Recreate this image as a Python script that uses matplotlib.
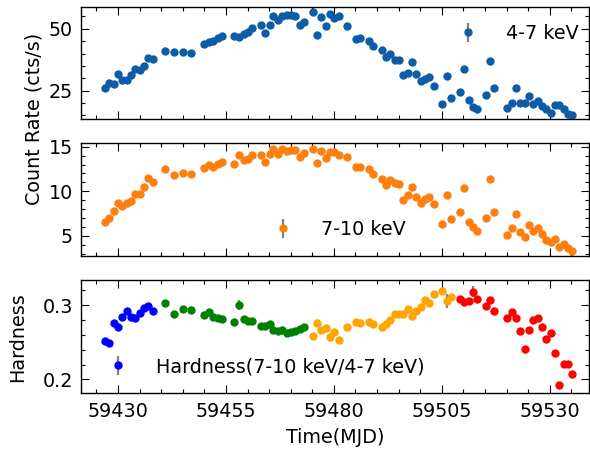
import numpy as np
import matplotlib
matplotlib.use('Agg')
import matplotlib.pyplot as plt
from matplotlib.ticker import MultipleLocator

# observation times (MJD)
mjd = [59426.9, 59427.9, 59429.0, 59430.0, 59431.0, 59432.0, 59433.0, 59434.0, 59435.0, 59436.0,
       59437.0, 59438.0, 59441.0, 59443.0, 59445.0, 59447.0, 59450.0, 59451.1, 59452.1, 59453.1,
       59454.1, 59456.9, 59458.1, 59459.1, 59460.1, 59461.1, 59463.1, 59464.1, 59465.1, 59466.0,
       59467.1, 59468.1, 59469.1, 59470.1, 59471.1, 59472.1, 59473.1, 59475.1, 59476.1, 59477.1,
       59478.1, 59479.1, 59480.1, 59481.2, 59483.1, 59485.1, 59486.1, 59488.1, 59489.1, 59491.1,
       59492.1, 59493.1, 59494.1, 59495.1, 59496.1, 59497.1, 59498.1, 59499.1, 59500.1, 59501.1,
       59502.1, 59503.1, 59505.1, 59506.2, 59507.2, 59509.2, 59510.2, 59511.2, 59512.2, 59513.2,
       59515.2, 59516.2, 59517.2, 59520.2, 59521.2, 59522.2, 59523.2, 59524.2, 59525.2, 59526.2,
       59527.2, 59528.2, 59529.2, 59530.2, 59531.2, 59532.2, 59533.2, 59534.2, 59535.2]

# 4-7 keV count rate (cts/s)
rate_soft = [26.0, 28.0, 27.7, 31.7, 29.1, 29.2, 31.3, 33.9, 33.3, 35.1,
             38.3, 37.6, 41.2, 40.8, 40.8, 40.3, 43.8, 44.5, 45.1, 46.1,
             47.2, 47.2, 46.8, 47.9, 48.9, 50.4, 51.6, 48.5, 51.6, 55.1,
             53.6, 55.1, 55.7, 55.4, 55.0, 51.6, 52.8, 56.8, 47.6, 54.6,
             51.2, 55.9, 54.3, 55.3, 51.1, 45.8, 46.2, 44.9, 43.1, 41.5,
             38.7, 39.9, 37.4, 37.4, 31.3, 32.3, 36.6, 31.8, 28.8, 29.5,
             30.4, 26.8, 19.5, 30.9, 21.9, 24.4, 33.7, 21.0, 18.5, 17.6,
             23.3, 36.9, 26.0, 17.9, 19.9, 26.1, 19.9, 19.9, 22.9, 19.5,
             20.6, 18.8, 17.5, 16.1, 19.1, 19.2, 17.7, 15.7, 15.2]
err_soft = 0.8

# 7-10 keV count rate (cts/s)
rate_hard = [6.56, 6.98, 7.73, 8.63, 8.30, 8.63, 8.89, 9.65, 9.68, 10.43,
             11.45, 11.00, 12.49, 11.78, 12.04, 11.90, 12.57, 12.91, 12.75, 13.02,
             13.28, 13.09, 14.07, 13.47, 13.65, 14.03, 14.07, 13.25, 14.15, 14.71,
             14.21, 14.71, 14.52, 14.60, 14.60, 13.84, 14.29, 14.71, 13.17, 14.52,
             13.76, 14.40, 14.37, 14.07, 13.84, 12.72, 12.75, 12.49, 11.90, 11.33,
             10.66, 11.22, 10.88, 10.80, 9.04, 9.53, 10.47, 9.31, 8.70, 9.08,
             9.31, 8.52, 6.27, 9.53, 6.87, 7.62, 10.32, 6.50, 5.97, 5.55,
             7.01, 11.37, 7.65, 5.10, 5.82, 7.43, 5.44, 4.88, 6.19, 5.55,
             5.82, 5.15, 4.51, 4.28, 4.58, 3.72, 4.06, 3.57, 3.23]
err_hard = 0.3

# hardness ratio (7-10 keV / 4-7 keV)
hardness = [0.2511, 0.2489, 0.2762, 0.2708, 0.2834, 0.2915, 0.2838, 0.2821, 0.2888, 0.2964,
            0.2987, 0.2915, 0.3036, 0.2879, 0.2946, 0.2937, 0.2870, 0.2906, 0.2838, 0.2825,
            0.2816, 0.2776, 0.3004, 0.2807, 0.2785, 0.2780, 0.2721, 0.2721, 0.2748, 0.2664,
            0.2650, 0.2664, 0.2619, 0.2637, 0.2654, 0.2681, 0.2704, 0.2583, 0.2762, 0.2664,
            0.2686, 0.2565, 0.2637, 0.2529, 0.2700, 0.2776, 0.2754, 0.2776, 0.2748, 0.2708,
            0.2740, 0.2802, 0.2879, 0.2875, 0.2879, 0.2946, 0.2848, 0.2919, 0.2982, 0.3067,
            0.3031, 0.3157, 0.3193, 0.3058, 0.3117, 0.3085, 0.3044, 0.3058, 0.3184, 0.3090,
            0.2987, 0.3067, 0.2924, 0.2821, 0.2910, 0.2829, 0.2654, 0.2404, 0.2664, 0.2802,
            0.2829, 0.2700, 0.2542, 0.2623, 0.2354, 0.1919, 0.2206, 0.2210, 0.2075]
hard_err = [0.004] * len(hardness)
# the few points whose error bars stick out of the marker
for t, e in [(59458.1, 0.007), (59506.2, 0.009), (59512.2, 0.008)]:
    hard_err[mjd.index(t)] = e

# hardness colour segments (MJD edges)
seg_edges = [59400, 59440, 59474, 59508, 59600]
seg_colors = ['blue', 'green', 'orange', 'red']

xticks = [59430, 59455, 59480, 59505, 59530]

plt.rcParams.update({
    'font.size': 13.75,
    'xtick.direction': 'in',
    'ytick.direction': 'in',
    'xtick.top': True,
    'ytick.right': True,
    'xtick.minor.visible': True,
    'ytick.minor.visible': True,
    'xtick.major.size': 5.5,
    'ytick.major.size': 5.5,
    'xtick.minor.size': 2.8,
    'ytick.minor.size': 2.8,
    'xtick.major.width': 0.8,
    'ytick.major.width': 0.8,
    'xtick.minor.width': 0.8,
    'ytick.minor.width': 0.8,
    'xtick.major.pad': 6,
    'ytick.major.pad': 6,
    'axes.linewidth': 1.0,
    'legend.frameon': False,
    'legend.handletextpad': 1.0,
})

fig = plt.figure(figsize=(5.9, 4.57), dpi=100)
ax1 = fig.add_axes([0.1378, 0.7396, 0.8605, 0.2460])
ax2 = fig.add_axes([0.1378, 0.4398, 0.8605, 0.2465], sharex=ax1)
ax3 = fig.add_axes([0.1378, 0.1394, 0.8605, 0.2475], sharex=ax1)

mjd_a = np.array(mjd)
hard_a = np.array(hardness)
herr_a = np.array(hard_err)

eb_kw = dict(fmt='o', ecolor='gray', elinewidth=1.6, capsize=0, markersize=5)

ax1.errorbar(mjd, rate_soft, yerr=err_soft, color='#0C5DA5', label='4-7 keV', **eb_kw)
ax1.set_ylim(13.5, 59.0)
ax1.set_yticks([25, 50])
ax1.yaxis.set_minor_locator(MultipleLocator(5))
ax1.legend(loc='upper right', bbox_to_anchor=(1.014, 1.0))

ax2.errorbar(mjd, rate_hard, yerr=err_hard, color='#ff7f0e', label='7-10 keV', **eb_kw)
ax2.set_ylim(2.72, 15.38)
ax2.set_yticks([5, 10, 15])
ax2.yaxis.set_minor_locator(MultipleLocator(1))
ax2.legend(loc='lower center')
ax2.set_ylabel('Count Rate (cts/s)')
ax2.yaxis.set_label_coords(-0.074, 1.22)

for i, c in enumerate(seg_colors):
    m = (mjd_a > seg_edges[i]) & (mjd_a < seg_edges[i + 1])
    lab = 'Hardness(7-10 keV/4-7 keV)' if i == 0 else None
    ax3.errorbar(mjd_a[m], hard_a[m], yerr=herr_a[m], color=c, label=lab, **eb_kw)
ax3.set_ylim(0.1812, 0.3337)
ax3.set_yticks([0.2, 0.3])
ax3.yaxis.set_minor_locator(MultipleLocator(0.02))
ax3.legend(loc='lower left')
ax3.set_ylabel('Hardness')
ax3.yaxis.set_label_coords(-0.107, 0.5)

ax3.set_xlim(59421.5, 59539.1)
ax3.set_xticks(xticks, [str(t) for t in xticks])
ax3.xaxis.set_minor_locator(MultipleLocator(5))
ax3.set_xlabel('Time(MJD)', labelpad=5)
for ax in (ax1, ax2):
    ax.tick_params(labelbottom=False)

fig.savefig('out.png', dpi=100)
